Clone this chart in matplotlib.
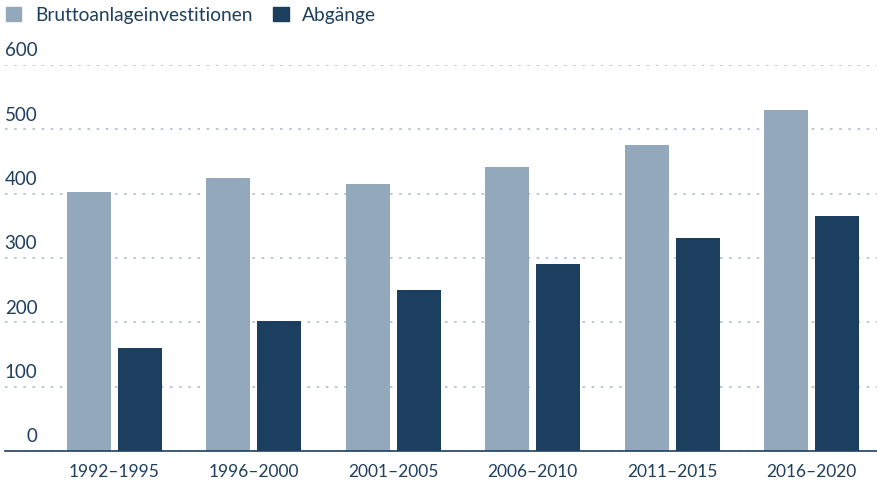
import numpy as np
import matplotlib.pyplot as plt
from matplotlib.patches import Patch

periods = ["1992\u20131995", "1996\u20132000", "2001\u20132005", "2006\u20132010", "2011\u20132015", "2016\u20132020"]
brutto = [402, 425, 415, 442, 475, 530]
abgaenge = [160, 202, 250, 290, 331, 366]
yticks = [0, 100, 200, 300, 400, 500, 600]

c_light = "#93a8bb"
c_dark = "#1c3f5f"
c_text = "#1f3f5e"

plt.rcParams["font.family"] = ["Lato", "DejaVu Sans"]

fig = plt.figure(figsize=(8.78, 4.86), dpi=100)
ax = fig.add_axes([5/878, 35/486, 873/878, 386/486])

x = np.arange(len(periods))
w = 0.316
off = 0.183
ax.bar(x - off, brutto, w, color=c_light, zorder=2)
ax.bar(x + off, abgaenge, w, color=c_dark, zorder=2)

ax.set_xlim(-0.785, 5.477)
ax.set_ylim(0, 600)
ax.set_yticks(yticks)
ax.set_yticklabels([])
ax.tick_params(axis="y", length=0)
ax.grid(axis="y", color="#aebccb", linestyle=(0, (1.5, 4)), linewidth=1.2, zorder=0)
for v in yticks:
    ax.annotate(str(v), xy=(0.037, v), xycoords=("axes fraction", "data"),
                xytext=(0, 4), textcoords="offset points", ha="right", va="bottom",
                fontsize=13.5, color=c_text)

ax.set_xticks(x)
ax.set_xticklabels(periods, fontsize=12.5, color=c_text)
ax.tick_params(axis="x", length=0, pad=9)

for s in ["left", "right", "top"]:
    ax.spines[s].set_visible(False)
ax.spines["bottom"].set_color(c_text)
ax.spines["bottom"].set_linewidth(1.2)
ax.spines["bottom"].set_zorder(3)

handles = [Patch(color=c_light, label="Bruttoanlageinvestitionen"),
           Patch(color=c_dark, label="Abgänge")]
leg = fig.legend(handles=handles, loc="upper left", bbox_to_anchor=(-0.004, 1.006), ncol=2,
                 frameon=False, fontsize=13.8, handlelength=0.8, handleheight=0.8,
                 handletextpad=0.7, columnspacing=1.1, borderaxespad=0.1)
for t in leg.get_texts():
    t.set_color(c_text)

fig.savefig("out.png", dpi=100)
